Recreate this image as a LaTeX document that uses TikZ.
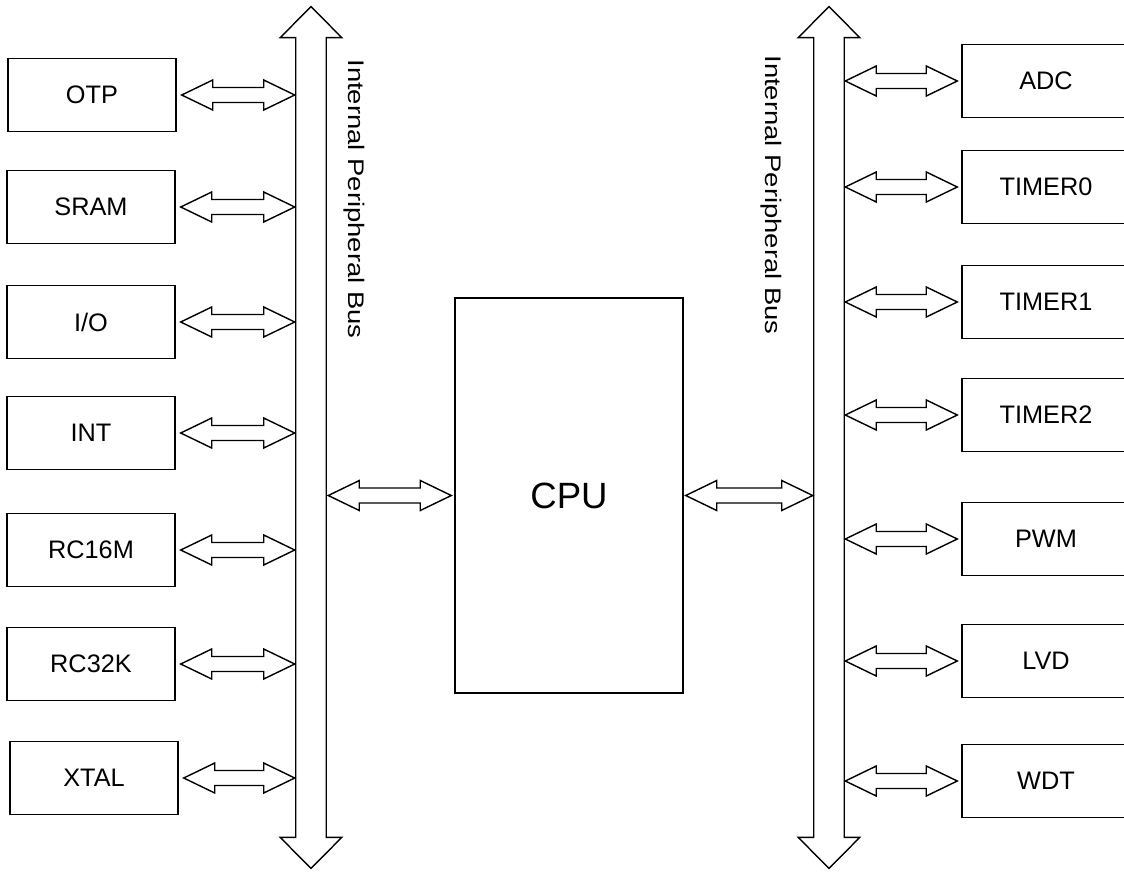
\documentclass[tikz,border=0pt]{standalone}
\usepackage{fontspec}
\setmainfont{Liberation Sans}
\usetikzlibrary{calc}

% hollow double-headed connector between two points
\newcommand{\dblarrow}[2]{%
  \draw[blockarrow] (#1) -- ($(#1)+(31,-15)$) -- ($(#1)+(31,-7.5)$) -- ($(#2)+(-31,-7.5)$)
    -- ($(#2)+(-31,-15)$) -- (#2) -- ($(#2)+(-31,15)$) -- ($(#2)+(-31,7.5)$)
    -- ($(#1)+(31,7.5)$) -- ($(#1)+(31,15)$) -- cycle;}

% vertical bus drawn round an invisible shaft node
\newcommand{\busarrow}[1]{%
  \draw[blockarrow] (#1.north west) -- ++(-15.5,0) -- ($(#1.north)+(0,-31)$)
    -- ($(#1.north east)+(15.5,0)$) -- (#1.north east) -- (#1.south east)
    -- ++(15.5,0) -- ($(#1.south)+(0,31)$) -- ($(#1.south west)+(-15.5,0)$)
    -- (#1.south west) -- cycle;}

\begin{document}
\begin{tikzpicture}[x=0.025cm, y=-0.025cm,
    block/.style={draw, line width=1pt, minimum width=4.2cm, minimum height=1.825cm,
      inner sep=0pt, font=\fontsize{18}{21}\selectfont},
    blockarrow/.style={draw, line width=1pt, fill=white, line join=miter},
    shaft/.style={inner sep=0pt, minimum width=0.75cm, minimum height=19.975cm},
    buslabel/.style={rotate=-90, inner sep=0pt, font=\fontsize{16}{19}\selectfont}]
	\clip (0,0) rectangle (1124,876);
	
	% the two buses
	\node[shaft] (lshaft) at (311,437.5) {};
	\node[shaft] (rshaft) at (829,437.5) {};
	\busarrow{lshaft}
	\busarrow{rshaft}
	\node[buslabel] (llabel) at (354,199) {\scalebox{1.22}[1]{Internal Peripheral Bus}};
	\node[buslabel] (rlabel) at (771,195) {\scalebox{1.22}[1]{Internal Peripheral Bus}};
	
	% CPU
	\node[draw, line width=1pt, minimum width=5.7cm, minimum height=9.875cm,
	  font=\fontsize{26}{30}\selectfont] (cpu) at (569,495.5) {CPU};
	\coordinate (cpu-la) at ($(cpu.west -| lshaft.east)+(2,0)$);
	\coordinate (cpu-lb) at ($(cpu.west)+(-3,0)$);
	\coordinate (cpu-ra) at ($(cpu.east)+(2,0)$);
	\coordinate (cpu-rb) at ($(cpu.east -| rshaft.west)+(-1,0)$);
	\dblarrow{cpu-la}{cpu-lb}
	\dblarrow{cpu-ra}{cpu-rb}
	
	% left side blocks
	\foreach \name/\txt/\xx/\yy in {otp/OTP/92/95, sram/SRAM/91/207, io/I\slash O/91/322,
	    int/INT/91/433, rcm/RC16M/91/550, rck/RC32K/91/664, xtal/XTAL/94/778} {
		\node[block] (\name) at (\xx,\yy) {\txt};
		\coordinate (\name-a) at ($(\name.east)+(5,0)$);
		\coordinate (\name-b) at ($(\name.east -| lshaft.west)+(-1,0)$);
		\dblarrow{\name-a}{\name-b}
	}
	
	% right side blocks
	\foreach \name/\txt/\yy in {adc/ADC/81, tmra/TIMER0/187, tmrb/TIMER1/302,
	    tmrc/TIMER2/415, pwm/PWM/539, lvd/LVD/661, wdt/WDT/781} {
		\node[block] (\name) at (1046,\yy) {\txt};
		\coordinate (\name-a) at ($(\name.west -| rshaft.east)+(1,0)$);
		\coordinate (\name-b) at ($(\name.west)+(-4,0)$);
		\dblarrow{\name-a}{\name-b}
	}
\end{tikzpicture}
\end{document}
